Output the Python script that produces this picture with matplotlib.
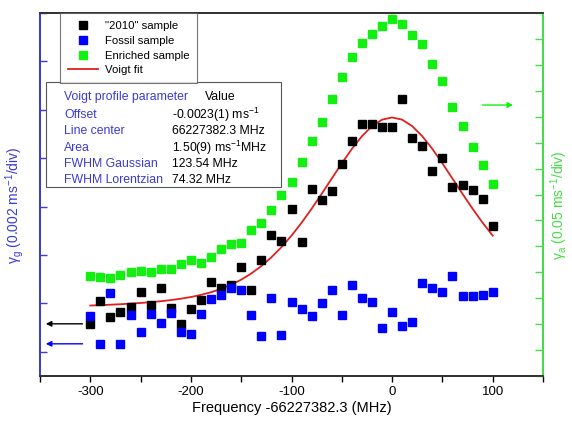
import matplotlib

matplotlib.use("Agg")
import matplotlib.pyplot as plt
from matplotlib.patches import Rectangle
from matplotlib.lines import Line2D

plt.rcParams["font.family"] = ["Liberation Sans", "DejaVu Sans"]
plt.rcParams["mathtext.fontset"] = "custom"
plt.rcParams["mathtext.rm"] = "Liberation Sans"
plt.rcParams["mathtext.it"] = "Liberation Sans:italic"
plt.rcParams["axes.unicode_minus"] = False

# 频率 (MHz, 相对于 66227382.3 MHz)
freq = list(range(-300, 101, 10))

# 左轴数据 (div, 0.002 ms^-1/div)
sample_2010 = [0.578, 1.059, 0.723, 0.820, 0.935, 1.239, 0.970, 1.328, 0.902, 0.572,
               0.888, 1.080, 1.445, 1.315, 1.390, 1.755, 1.286, 1.906, 2.422, 2.298,
               2.959, 2.265, 3.372, 3.139, 3.324, 3.882, 4.357, 4.714, 4.702, 4.636,
               4.652, 5.218, 4.425, 4.260, 3.737, 4.000, 3.401, 3.454, 3.345, 3.165,
               2.596]
fossil = [0.750, 0.159, 1.212, 0.159, 0.764, 0.413, 0.778, 0.593, 0.799, 0.399,
          0.378, 0.791, 1.101, 1.183, 1.315, 1.286, 0.770, 0.324, 1.121, 0.337,
          1.039, 0.894, 0.737, 1.006, 1.274, 0.758, 1.383, 1.109, 1.039, 0.485,
          0.832, 0.537, 0.626, 1.431, 1.315, 1.245, 1.575, 1.150, 1.150, 1.183,
          1.245]
voigt_fit = [0.956, 0.964, 0.973, 0.983, 0.996, 1.009, 1.025, 1.045, 1.068, 1.097,
             1.132, 1.176, 1.231, 1.300, 1.386, 1.491, 1.618, 1.772, 1.952, 2.162,
             2.400, 2.666, 2.956, 3.263, 3.580, 3.894, 4.192, 4.454, 4.662, 4.796,
             4.842, 4.796, 4.662, 4.454, 4.192, 3.894, 3.580, 3.263, 2.956, 2.666,
             2.400]

# 右轴数据 (div, 0.05 ms^-1/div)
enriched = [3.868, 3.830, 3.791, 3.883, 4.022, 4.049, 3.999, 4.115, 4.115, 4.331,
            4.474, 4.358, 4.578, 4.886, 5.079, 5.129, 5.619, 5.912, 6.390, 6.992,
            7.493, 8.253, 9.063, 9.796, 10.671, 11.519, 12.302, 12.854, 13.201, 13.509,
            13.779, 13.575, 13.162, 12.792, 12.032, 11.365, 10.374, 9.630, 8.843, 8.126,
            7.416]

# 参数表
param_names = ["Offset", "Line center", "Area", "FWHM Gaussian", "FWHM Lorentzian"]
param_values = ["-0.0023(1) ms$^{-1}$", "66227382.3 MHz", "1.50(9) ms$^{-1}$MHz",
                "123.54 MHz", "74.32 MHz"]

BLUE = "#0000ff"
GREEN = "#11f011"
LBLUE = "#3a3ad6"
LGREEN = "#44dd44"
MS = 5.8

fig = plt.figure(figsize=(5.72, 4.22), dpi=100)
ax = fig.add_axes([40 / 572, 46 / 422, 503 / 572, 363 / 422])
ax2 = ax.twinx()

ax.plot(freq, voigt_fit, color="#e02020", linewidth=1.3, zorder=2)
ax.plot(freq, sample_2010, "s", color="black", markersize=MS, zorder=3)
ax.plot(freq, fossil, "s", color=BLUE, markersize=MS, zorder=3)
ax2.plot(freq, enriched, "s", color=GREEN, markersize=MS, zorder=3)

ax.set_xlim(-350, 150)
ax.set_ylim(-0.5, 7)
ax2.set_ylim(0, 14)

ax.set_xticks([-300, -200, -100, 0, 100])
ax.set_xticks([-350, -250, -150, -50, 50, 150], minor=True)
ax.tick_params(axis="x", which="both", direction="out", length=4, width=1, labelsize=9.5)
ax.set_yticks(range(0, 8))
ax.tick_params(axis="y", direction="in", length=5, width=1, color=LBLUE, labelleft=False)
ax2.set_yticks(range(0, 15))
ax2.tick_params(axis="y", direction="in", length=6, width=1, color=LGREEN, labelright=False)

for a in (ax, ax2):
    a.spines["left"].set_color(LBLUE)
    a.spines["right"].set_color(LGREEN)
    a.spines["top"].set_color("#333333")
    a.spines["bottom"].set_color("#333333")
    for s in a.spines.values():
        s.set_linewidth(1.3)

ax.set_xlabel("Frequency -66227382.3 (MHz)", fontsize=10.5, labelpad=2)
ax.set_ylabel("γ$_\\mathrm{g}$ (0.002 ms$^{-1}$/div)", color=LBLUE, fontsize=10)
ax.yaxis.set_label_coords(-0.028, 0.47)
ax2.set_ylabel("γ$_\\mathrm{a}$ (0.05 ms$^{-1}$/div)", color=LGREEN, fontsize=10)
ax2.yaxis.set_label_coords(1.011, 0.47)

# 箭头
arrow = dict(arrowstyle="-|>", linewidth=1.0, mutation_scale=8)
ax.annotate("", xy=(-347, 0.578), xytext=(-305, 0.578),
            arrowprops=dict(arrow, color="black"))
ax.annotate("", xy=(-347, 0.165), xytext=(-305, 0.165),
            arrowprops=dict(arrow, color=BLUE))
ax2.annotate("", xy=(123, 10.45), xytext=(87, 10.45),
             arrowprops=dict(arrow, color=GREEN))

# 图例
handles = [
    Line2D([], [], marker="s", color="black", linestyle="none", markersize=MS),
    Line2D([], [], marker="s", color=BLUE, linestyle="none", markersize=MS),
    Line2D([], [], marker="s", color=GREEN, linestyle="none", markersize=MS),
    Line2D([], [], color="#e02020", linewidth=1.3),
]
labels = ['"2010" sample', "Fossil sample", "Enriched sample", "Voigt fit"]
leg = ax2.legend(handles, labels, loc="upper left", bbox_to_anchor=(0.04, 1.0),
                 fontsize=8.2, frameon=True, fancybox=False, borderpad=0.7,
                 labelspacing=0.42, handlelength=2.6, handletextpad=0.6,
                 borderaxespad=0)
leg.get_frame().set_edgecolor("#555555")
leg.get_frame().set_linewidth(0.8)


# 参数表
def px_x(px):
    return (px - 40) / 503


def px_y(py):
    return (376 - py) / 363


ax2.add_patch(Rectangle((px_x(46), px_y(187)), px_x(281) - px_x(46), px_y(82) - px_y(187),
                        transform=ax2.transAxes, facecolor="white", edgecolor="#555555",
                        linewidth=0.8, zorder=5))
ax2.text(px_x(64), px_y(97), "Voigt profile parameter", transform=ax2.transAxes,
         color=LBLUE, fontsize=8.8, va="center", zorder=6)
ax2.text(px_x(205), px_y(97), "Value", transform=ax2.transAxes,
         color="black", fontsize=8.8, va="center", zorder=6)
rows_y = [115, 131, 148, 164, 180]
for name, value, ry in zip(param_names, param_values, rows_y):
    ax2.text(px_x(64), px_y(ry), name, transform=ax2.transAxes,
             color=LBLUE, fontsize=8.8, va="center", zorder=6)
    ax2.text(px_x(172), px_y(ry), value, transform=ax2.transAxes,
             color="black", fontsize=8.8, va="center", zorder=6)

fig.savefig("out.png", dpi=100)
plt.close(fig)
